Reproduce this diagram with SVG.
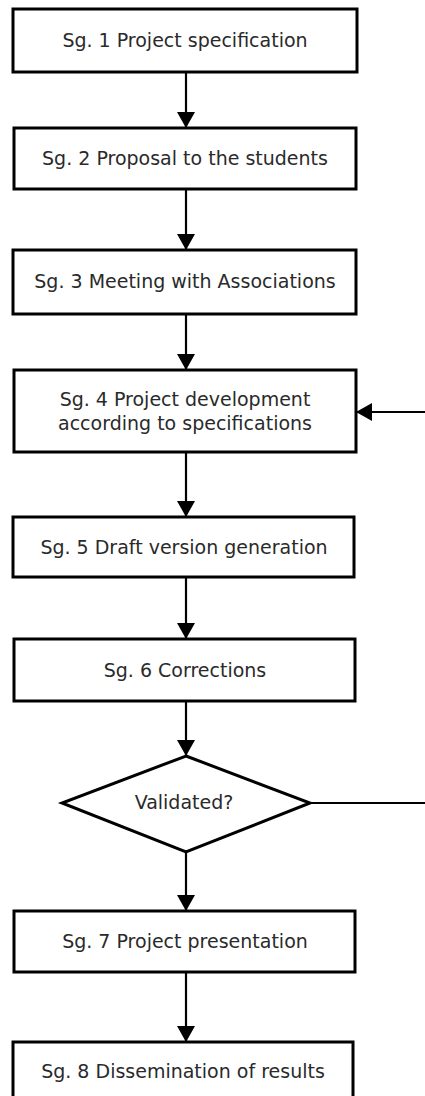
<svg xmlns="http://www.w3.org/2000/svg" width="425" height="1096" viewBox="0 0 425 1096">
<style>
.box{fill:#fff;stroke:#000;stroke-width:3}
.lbl{font-family:"DejaVu Sans",sans-serif;font-size:19px;fill:#2a2a2a;text-anchor:middle}
.con{fill:none;stroke:#000;stroke-width:2.2}
</style>
<defs>
<marker id="ah" viewBox="0 0 16 18" refX="16" refY="9" markerWidth="16" markerHeight="18" markerUnits="userSpaceOnUse" orient="auto">
<path d="M0,0 L16,9 L0,18 Z" fill="#000"/>
</marker>
</defs>
<rect width="425" height="1096" fill="#fff"/>
<g id="connectors">
<path class="con" d="M186,72 V128" marker-end="url(#ah)"/>
<path class="con" d="M186,189 V250" marker-end="url(#ah)"/>
<path class="con" d="M186,314 V370" marker-end="url(#ah)"/>
<path class="con" d="M186,452 V517" marker-end="url(#ah)"/>
<path class="con" d="M186,577 V639" marker-end="url(#ah)"/>
<path class="con" d="M186,701 V756" marker-end="url(#ah)"/>
<path class="con" d="M186,852 V911" marker-end="url(#ah)"/>
<path class="con" d="M186,972 V1042" marker-end="url(#ah)"/>
<path class="con" d="M310,803 H432 V412 H356" marker-end="url(#ah)"/>
</g>
<g id="n1"><rect class="box" x="13" y="9" width="344" height="63"/><text class="lbl" x="185" y="47">Sg. 1 Project specification</text></g>
<g id="n2"><rect class="box" x="14" y="128" width="342" height="61"/><text class="lbl" x="185" y="165">Sg. 2 Proposal to the students</text></g>
<g id="n3"><rect class="box" x="13" y="250" width="343" height="64"/><text class="lbl" x="185" y="288">Sg. 3 Meeting with Associations</text></g>
<g id="n4"><rect class="box" x="14" y="370" width="342" height="82"/><text class="lbl" x="185" y="406">Sg. 4 Project development</text><text class="lbl" x="185" y="430">according to specifications</text></g>
<g id="n5"><rect class="box" x="13" y="517" width="341" height="60"/><text class="lbl" x="184" y="554">Sg. 5 Draft version generation</text></g>
<g id="n6"><rect class="box" x="14" y="639" width="341" height="62"/><text class="lbl" x="185" y="677">Sg. 6 Corrections</text></g>
<g id="n_valid"><polygon class="box" points="186,756 310,803 186,852 62,803"/><text class="lbl" x="184" y="809">Validated?</text></g>
<g id="n7"><rect class="box" x="14" y="911" width="341" height="61"/><text class="lbl" x="185" y="948">Sg. 7 Project presentation</text></g>
<g id="n8"><rect class="box" x="13" y="1042" width="340" height="60"/><text class="lbl" x="183" y="1078">Sg. 8 Dissemination of results</text></g>
</svg>
